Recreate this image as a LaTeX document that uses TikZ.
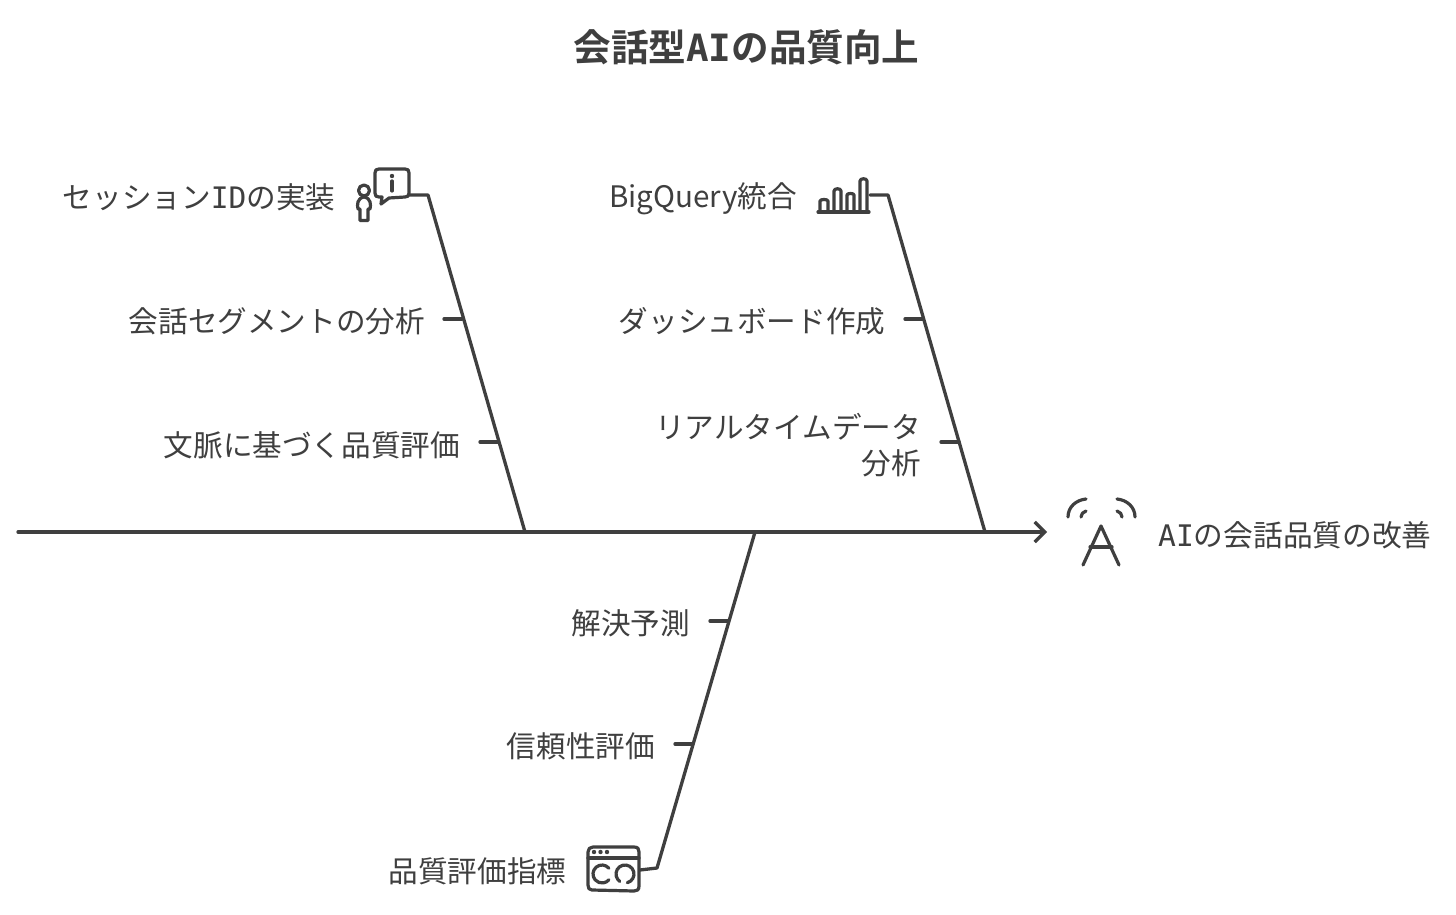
\documentclass[tikz,border=0pt]{standalone}
\usepackage{fontspec}
\setmainfont{Noto Sans CJK JP}
\newfontfamily\jpbold{Noto Sans CJK JP Bold}
\newfontfamily\lat{DejaVu Sans Mono}
\newfontfamily\latb{DejaVu Sans Mono Bold}
\usetikzlibrary{arrows.meta}
\definecolor{ink}{HTML}{3F3F3F}
\tikzset{
  x=1pt,y=-1pt,
  bone/.style={draw=ink,line width=3.3pt,line cap=round,line join=round},
  icon/.style={draw=ink,line width=3.2pt,line cap=round,line join=round},
  lbl/.style={text=ink,font=\fontsize{29.6}{36}\selectfont,inner sep=0pt,anchor=east,align=right},
  lbr/.style={text=ink,font=\fontsize{29.7}{36}\selectfont,inner sep=0pt,anchor=west},
  ttl/.style={text=ink,font=\fontsize{37.6}{42}\jpbold\selectfont,inner sep=0pt},
}
\begin{document}
\begin{tikzpicture}
\useasboundingbox (0,0) rectangle (1456,915);
\fill[white] (0,0) rectangle (1456,915);
\node[ttl] (title) at (746.5,47) {会話型{\latb AI}の品質向上};
% spine
\coordinate (tail) at (18,532);
\coordinate (head) at (1047,532);
\draw[bone,-{Straight Barb[length=10pt,width=20pt,line width=3.3pt]}] (tail) -- (head);
% joints
\coordinate (j1) at (525,532);
\coordinate (j2) at (985,532);
\coordinate (j3) at (755,532);
\coordinate (e1) at (428,195);
\coordinate (s1) at (410,195);
\coordinate (e2) at (888,195);
\coordinate (s2) at (870,195);
\coordinate (e3) at (657,868);
\coordinate (s3) at (640,870);
\draw[bone] (s1) -- (e1) -- (j1);
\draw[bone] (s2) -- (e2) -- (j2);
\draw[bone] (j3) -- (e3) -- (s3);
% ribs
\coordinate (a1) at (444,319); \coordinate (a2) at (462,319);
\coordinate (b1) at (480,442); \coordinate (b2) at (498,442);
\coordinate (c1) at (905,319); \coordinate (c2) at (923,319);
\coordinate (d1) at (941,442); \coordinate (d2) at (959,442);
\coordinate (f1) at (710,621); \coordinate (f2) at (728,621);
\coordinate (g1) at (675,744); \coordinate (g2) at (692,744);
\draw[bone] (a1) -- (a2);
\draw[bone] (b1) -- (b2);
\draw[bone] (c1) -- (c2);
\draw[bone] (d1) -- (d2);
\draw[bone] (f1) -- (f2);
\draw[bone] (g1) -- (g2);
% labels
\node[lbl] (n1) at (335.5,197) {セッション{\lat ID}の実装};
\node[lbl] (n2) at (425,321) {会話セグメントの分析};
\node[lbl] (n3) at (460,445) {文脈に基づく品質評価};
\node[lbl] (n4) at (797,198.5) {BigQuery統合};
\node[lbl] (n5) at (885.5,321) {ダッシュボード作成};
\node[lbl] (n6) at (921,445) {リアルタイムデータ\\分析};
\node[lbl] (n7) at (690,623) {解決予測};
\node[lbl] (n8) at (655,746) {信頼性評価};
\node[lbl] (n9) at (566.5,871) {品質評価指標};
\node[lbr] (n10) at (1158,535) {{\lat AI}の会話品質の改善};
% icon: person + info bubble
\draw[icon] (364,190.5) circle (5.5);
\draw[icon] (364,197) .. controls (357,198) and (357,205) .. (358,209) -- (360,209) -- (360,220.5) -- (368,220.5) -- (368,209) -- (370,209) .. controls (371,205) and (371,198) .. (364,197);
\draw[icon] (379,169) -- (405,169) .. controls (408,169) and (409,170) .. (409,173) -- (409,193) .. controls (409,196) and (408,197) .. (405,197) -- (389,198) -- (381,204) -- (382,197) -- (379,197) .. controls (376,197) and (375,196) .. (375,193) -- (375,173) .. controls (375,170) and (376,169) .. (379,169) -- cycle;
\fill[ink] (392,176) circle (2.2);
\draw[icon] (392,181) -- (392,191);
% icon: bar chart
\draw[icon] (818,212) -- (869,212);
\draw[icon] (820,212) -- (820,201) .. controls (820,199) and (828,199) .. (828,201) -- (828,212);
\draw[icon] (834,212) -- (834,191) .. controls (834,188) and (841,188) .. (841,191) -- (841,212);
\draw[icon] (847,212) -- (847,195) .. controls (847,193) and (854,193) .. (854,195) -- (854,212);
\draw[icon] (860,212) -- (860,181) .. controls (860,178) and (867,178) .. (867,181) -- (867,212);
% icon: antenna A
\draw[icon] (1083,565) -- (1101,526) -- (1119,565);
\draw[icon] (1090,547) -- (1112,547);
\draw[icon] (1068,517) .. controls (1068,507) and (1076,500) .. (1086,499);
\draw[icon] (1135,517) .. controls (1135,507) and (1127,500) .. (1117,499);
\draw[icon] (1081,517) .. controls (1081,514) and (1083,512) .. (1086,511);
\draw[icon] (1122,517) .. controls (1122,514) and (1120,512) .. (1117,511);
% icon: browser
\draw[icon] (593,847) -- (634,847) .. controls (638,847) and (639,849) .. (639,852) -- (639,886) .. controls (639,890) and (637,891) .. (634,891) -- (592,890) .. controls (589,890) and (588,888) .. (588,885) -- (588,852) .. controls (588,849) and (590,847) .. (593,847) -- cycle;
\draw[icon] (588,858) -- (639,858);
\fill[ink] (594,852) circle (2.2);
\fill[ink] (600.5,852) circle (2.2);
\fill[ink] (607,852) circle (2.2);
\draw[icon] (602,874) ++(-40:9) arc[start angle=-40,end angle=-320,radius=9];
\draw[icon] (625,874) ++(75:9) arc[start angle=75,end angle=-235,radius=9];
\end{tikzpicture}
\end{document}
